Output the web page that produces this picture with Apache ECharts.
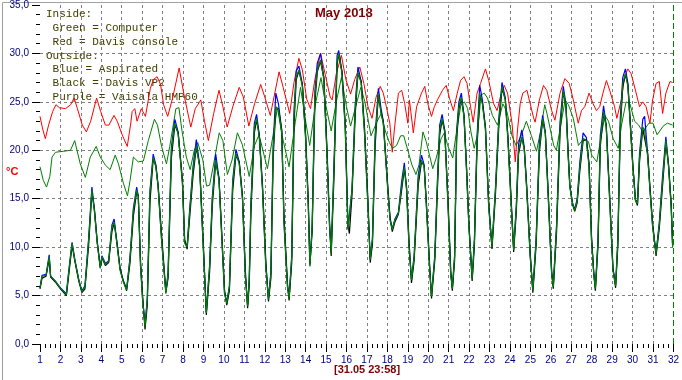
<!DOCTYPE html>
<html><head><meta charset="utf-8">
<script src="https://cdn.jsdelivr.net/npm/echarts@6/dist/echarts.min.js"></script>
<style>html,body{margin:0;padding:0;background:#fff}#c{width:682px;height:380px}</style>
</head><body><div id="c"></div>
<script>
// ---- data (day of month as fractional time, temperature in °C) ----
const yTicks = [0, 5, 10, 15, 20, 25, 30, 35];
const dayTicks = [1,2,3,4,5,6,7,8,9,10,11,12,13,14,15,16,17,18,19,20,21,22,23,24,25,26,27,28,29,30,31,32];

const redInside = [[1.0,23.5],[1.12,22.3],[1.26,21.2],[1.42,22.6],[1.62,24.0],[1.78,24.7],[1.95,24.4],[2.25,24.3],[2.5,24.7],[2.67,25.4],[2.83,24.3],[3.07,22.6],[3.27,21.9],[3.48,23.0],[3.77,25.4],[3.97,24.0],[4.2,22.6],[4.37,22.6],[4.62,23.6],[4.78,23.0],[5.02,21.6],[5.27,20.4],[5.43,22.6],[5.51,24.0],[5.64,24.3],[5.75,23.0],[5.96,24.3],[6.16,23.5],[6.4,26.4],[6.55,27.3],[6.73,27.6],[6.9,26.8],[7.05,24.7],[7.25,23.5],[7.49,25.4],[7.81,28.5],[8.05,25.7],[8.38,22.4],[8.6,24.3],[8.87,25.2],[9.05,23.0],[9.24,21.0],[9.5,23.8],[9.76,26.2],[9.95,24.5],[10.16,22.4],[10.45,24.6],[10.75,26.5],[10.95,25.5],[11.22,22.5],[11.5,24.8],[11.8,26.8],[12.0,25.5],[12.27,23.6],[12.5,26.0],[12.7,28.1],[12.9,26.5],[13.22,23.8],[13.43,27.0],[13.67,29.5],[13.84,28.3],[14.05,25.3],[14.24,24.3],[14.45,27.3],[14.73,30.0],[14.95,27.9],[15.2,25.5],[15.3,25.2],[15.5,27.9],[15.75,29.8],[15.97,27.3],[16.2,25.8],[16.4,27.3],[16.65,28.6],[16.85,26.9],[17.05,24.5],[17.25,23.3],[17.45,25.5],[17.65,26.6],[17.8,25.9],[17.95,24.5],[18.12,22.8],[18.24,19.8],[18.34,22.1],[18.54,25.9],[18.7,26.2],[18.85,24.8],[19.0,22.8],[19.08,25.2],[19.27,21.8],[19.43,24.5],[19.67,25.9],[19.83,26.6],[19.98,24.8],[20.16,23.5],[20.3,24.5],[20.45,25.2],[20.7,26.2],[20.88,26.7],[21.05,25.3],[21.23,24.1],[21.42,25.9],[21.58,27.2],[21.75,27.6],[21.9,26.9],[22.07,24.5],[22.2,22.9],[22.39,25.9],[22.56,26.9],[22.8,28.4],[22.96,27.2],[23.2,24.8],[23.37,24.1],[23.53,25.5],[23.72,26.7],[23.88,25.9],[24.1,22.8],[24.26,18.8],[24.37,22.1],[24.5,24.8],[24.63,25.9],[24.83,26.2],[24.99,24.8],[25.15,23.4],[25.23,22.9],[25.44,25.2],[25.64,26.7],[25.8,26.2],[26.04,24.1],[26.2,23.1],[26.45,25.9],[26.69,27.4],[26.9,26.9],[27.1,25.2],[27.34,22.8],[27.5,24.1],[27.66,24.5],[27.87,25.9],[28.07,24.8],[28.23,24.1],[28.39,24.5],[28.55,25.9],[28.72,27.2],[28.88,26.2],[29.12,24.5],[29.23,23.3],[29.45,25.2],[29.61,27.6],[29.77,28.4],[29.93,27.9],[30.14,26.2],[30.34,24.5],[30.5,25.0],[30.66,24.5],[30.85,22.8],[30.98,25.2],[31.15,26.9],[31.31,27.1],[31.47,23.8],[31.63,25.9],[31.83,27.1],[31.96,27.0]];

const greenInside = [[1.0,18.3],[1.16,16.9],[1.32,16.2],[1.48,17.3],[1.59,19.3],[1.76,19.8],[2.16,19.9],[2.49,20.0],[2.7,21.0],[2.81,20.0],[2.97,18.6],[3.22,17.2],[3.46,19.3],[3.75,20.4],[3.95,19.3],[4.19,18.5],[4.43,18.0],[4.68,19.5],[4.84,18.6],[5.08,16.6],[5.28,15.3],[5.41,16.9],[5.57,19.3],[5.81,18.8],[6.06,18.9],[6.3,21.0],[6.6,23.2],[6.75,22.6],[6.95,20.4],[7.19,18.6],[7.35,20.4],[7.65,24.3],[7.8,24.4],[7.95,22.0],[8.16,19.3],[8.35,18.0],[8.55,20.0],[8.72,20.8],[8.97,19.0],[9.15,16.3],[9.3,16.4],[9.5,18.6],[9.77,21.8],[9.95,21.0],[10.17,17.5],[10.4,19.0],[10.66,21.8],[10.9,20.6],[11.24,17.3],[11.5,20.5],[11.72,21.6],[12.13,18.1],[12.4,21.5],[12.62,24.4],[12.85,21.5],[13.19,18.3],[13.5,23.0],[13.75,26.5],[14.0,23.0],[14.2,20.5],[14.5,25.0],[14.75,27.5],[15.0,24.5],[15.25,22.0],[15.5,25.0],[15.75,27.5],[16.0,24.5],[16.2,22.5],[16.45,24.5],[16.7,26.5],[16.9,25.0],[17.2,21.5],[17.5,23.0],[17.7,23.8],[17.9,22.0],[18.1,20.8],[18.25,20.2],[18.45,20.5],[18.65,21.5],[18.8,21.5],[19.0,20.0],[19.2,18.5],[19.4,17.5],[19.55,18.5],[19.74,21.9],[19.9,20.9],[20.06,19.5],[20.22,18.1],[20.39,19.2],[20.63,21.2],[20.79,21.8],[20.95,20.5],[21.2,19.2],[21.36,21.6],[21.6,24.7],[21.77,25.0],[21.93,24.3],[22.09,21.9],[22.25,20.2],[22.41,21.6],[22.58,25.7],[22.74,25.9],[22.9,25.4],[23.14,23.6],[23.39,22.6],[23.65,24.8],[23.85,24.0],[24.1,21.5],[24.3,20.5],[24.55,21.5],[24.8,23.0],[25.05,21.5],[25.3,19.9],[25.5,22.0],[25.7,24.7],[25.81,23.8],[26.14,20.5],[26.27,20.0],[26.7,25.2],[26.86,24.7],[27.1,23.3],[27.35,20.5],[27.6,21.2],[27.84,20.9],[28.0,19.5],[28.25,18.8],[28.5,21.9],[28.65,23.6],[28.82,23.0],[29.05,21.2],[29.3,20.2],[29.46,22.6],[29.68,25.0],[29.87,24.8],[30.1,23.0],[30.3,22.6],[30.5,21.9],[30.8,22.8],[31.0,22.8],[31.2,21.6],[31.5,22.5],[31.7,22.8],[31.96,22.6]];

const outTime = [1.0,1.1,1.3,1.45,1.52,1.75,2.0,2.29,2.4,2.57,2.7,2.9,3.05,3.2,3.38,3.54,3.66,3.8,3.95,4.03,4.2,4.36,4.52,4.63,4.76,4.92,5.08,5.24,5.4,5.57,5.73,5.81,5.92,6.02,6.14,6.25,6.38,6.54,6.67,6.78,6.95,7.16,7.27,7.43,7.6,7.76,7.97,8.08,8.2,8.33,8.49,8.65,8.81,8.98,9.14,9.3,9.43,9.6,9.76,9.87,10.03,10.14,10.27,10.43,10.59,10.75,10.91,11.05,11.16,11.24,11.32,11.49,11.6,11.73,11.89,12.05,12.18,12.3,12.41,12.54,12.67,12.83,12.94,13.11,13.19,13.32,13.43,13.54,13.67,13.84,14.0,14.13,14.21,14.32,14.45,14.57,14.73,14.89,15.05,15.17,15.25,15.38,15.54,15.62,15.78,15.94,16.07,16.14,16.27,16.43,16.56,16.72,16.88,17.05,17.16,17.27,17.4,17.56,17.69,17.8,17.89,18.02,18.13,18.24,18.37,18.54,18.7,18.83,18.94,19.06,19.18,19.31,19.51,19.67,19.8,19.91,20.08,20.16,20.32,20.45,20.56,20.68,20.81,20.97,21.1,21.18,21.29,21.39,21.5,21.62,21.75,21.88,21.99,22.15,22.26,22.39,22.52,22.65,22.8,22.96,23.12,23.29,23.45,23.61,23.77,23.9,24.05,24.18,24.31,24.42,24.58,24.7,24.82,24.99,25.12,25.28,25.44,25.6,25.73,25.88,26.04,26.12,26.28,26.45,26.61,26.74,26.85,26.93,27.06,27.17,27.29,27.42,27.58,27.74,27.87,27.99,28.1,28.18,28.31,28.42,28.58,28.71,28.88,29.04,29.17,29.28,29.4,29.52,29.65,29.77,29.88,30.01,30.14,30.24,30.34,30.5,30.59,30.74,30.85,30.98,31.15,31.31,31.47,31.63,31.76,31.89,31.96];

const outGreen = [5.8,7.0,7.1,9.0,7.0,6.5,5.75,5.1,7.3,10.4,8.7,6.6,5.4,5.9,10.7,15.9,13.8,10.4,7.8,9.0,8.2,8.5,12.1,12.6,10.4,7.6,6.4,5.6,8.7,13.8,15.9,15.2,8.0,4.6,1.8,4.6,15.5,19.3,18.3,16.2,10.7,5.2,7.3,20.0,22.8,21.7,16.6,10.4,10.0,13.8,18.0,20.5,18.3,10.4,3.2,8.0,14.9,19.0,16.9,12.1,5.2,4.2,5.9,16.6,19.7,18.6,14.9,7.0,3.9,6.6,14.2,22.4,23.3,21.4,15.9,8.0,4.6,7.3,20.0,24.5,24.2,21.8,12.5,5.9,4.7,9.0,23.5,27.6,28.3,26.6,21.1,14.2,8.0,12.1,25.5,28.3,29.3,27.3,19.3,12.1,9.4,17.6,29.3,30.0,27.9,22.1,11.8,11.6,15.9,24.5,28.1,26.9,21.8,14.2,8.7,10.8,21.1,25.9,23.8,22.8,20.0,15.9,12.8,11.8,12.8,13.5,16.3,18.3,15.9,10.1,6.6,9.0,17.0,19.0,18.3,14.2,7.3,4.9,9.0,16.6,22.1,23.3,21.8,14.2,7.2,5.7,9.0,21.7,24.5,25.5,23.4,17.6,12.1,6.7,10.7,21.0,25.9,24.8,22.1,14.1,10.0,15.9,22.8,26.6,25.2,21.0,14.8,9.7,14.1,20.0,21.4,20.0,15.9,9.0,5.5,10.7,20.3,23.3,21.7,14.8,7.2,5.9,12.1,22.4,26.2,24.5,19.3,16.2,14.5,13.8,14.8,18.3,21.2,21.0,18.3,10.7,7.2,5.7,10.7,21.0,24.0,22.4,14.8,7.6,6.0,10.7,22.8,26.9,27.9,26.6,22.8,18.3,14.8,14.5,19.3,22.4,22.1,19.3,15.9,12.1,9.3,12.4,16.9,21.0,18.3,14.1,10.0];

const outBlue = [5.8,7.1,7.2,9.2,7.0,6.5,5.8,5.2,7.4,10.5,8.8,6.6,5.5,6.0,10.9,16.2,14.0,10.5,7.9,9.1,8.3,8.6,12.3,12.9,10.5,7.7,6.5,5.7,8.8,14.0,16.2,15.3,8.1,4.7,1.9,4.7,15.8,19.6,18.5,16.3,10.8,5.3,7.4,20.3,23.2,21.9,16.7,10.5,10.1,14.0,18.3,21.1,18.5,10.5,3.3,8.1,15.1,19.6,17.1,12.2,5.3,4.3,6.0,16.9,20.1,18.8,15.0,7.1,4.0,6.7,14.4,22.8,23.7,21.6,16.0,8.1,4.7,7.4,20.5,25.9,24.8,22.0,12.6,6.0,4.8,9.1,24.0,28.2,28.7,26.8,21.3,14.3,8.1,12.3,26.0,29.0,30.0,27.5,19.5,12.2,9.5,17.9,29.8,30.3,28.1,22.3,11.9,11.7,16.0,24.8,28.6,27.1,22.0,14.3,8.8,10.9,21.5,26.4,24.3,23.0,20.1,16.0,12.9,11.9,12.9,13.6,16.8,18.7,16.0,10.2,6.7,9.1,17.4,19.5,18.5,14.3,7.4,5.0,9.1,16.9,22.6,23.7,22.0,14.3,7.3,5.8,9.1,22.0,25.0,25.9,23.6,17.7,12.2,6.8,10.8,21.5,26.7,25.2,22.3,14.2,10.1,16.1,23.2,27.0,25.4,21.2,14.9,9.8,14.3,20.6,22.1,20.3,16.0,9.1,5.6,10.8,20.8,23.6,21.9,14.9,7.3,6.0,12.3,22.9,26.6,24.7,19.5,16.3,14.6,13.9,15.0,18.8,21.8,21.3,18.5,10.8,7.3,5.8,10.8,21.5,24.6,22.6,14.9,7.7,6.1,10.8,23.4,27.5,28.4,26.9,23.0,18.5,14.9,14.6,19.7,23.2,23.5,19.6,16.0,12.2,9.4,12.6,17.4,21.4,18.5,14.2,10.1];

const outBlack = [5.7,6.8,7.0,8.8,6.9,6.4,5.7,5.0,7.0,10.2,8.6,6.5,5.3,5.7,10.2,15.7,13.9,10.6,7.9,8.9,8.1,8.4,11.6,12.5,10.6,7.8,6.5,5.5,8.3,13.2,15.7,15.3,8.6,5.0,1.5,4.0,14.6,19.1,18.4,16.4,11.3,5.4,6.8,19.2,22.6,21.8,17.0,10.8,9.8,13.2,17.4,20.3,18.5,11.0,3.0,7.4,14.2,18.8,17.1,12.6,5.6,4.0,5.5,15.8,19.5,18.8,15.3,7.6,3.7,6.1,13.4,21.8,23.1,21.6,16.4,8.6,4.4,6.8,19.2,24.3,24.3,22.1,13.2,6.3,4.5,8.4,22.6,27.3,28.2,26.8,21.6,14.8,8.3,11.6,24.8,28.1,29.2,27.5,19.9,12.6,9.1,16.8,28.9,29.9,28.1,22.7,12.4,11.4,15.4,23.8,27.9,27.1,22.4,14.8,8.4,10.3,20.4,25.7,24.0,22.9,20.3,16.3,13.1,11.6,12.6,13.4,15.9,18.1,16.2,10.6,6.3,8.6,16.4,18.8,18.4,14.6,7.7,4.7,8.6,16.0,21.6,23.1,22.0,14.8,7.6,5.5,8.6,21.1,24.3,25.3,23.6,18.1,12.5,6.5,10.2,20.4,25.7,24.9,22.4,14.6,9.8,15.4,22.3,26.4,25.3,21.4,15.3,9.5,13.6,19.6,21.3,20.2,16.3,9.4,5.3,10.2,19.8,23.1,21.8,15.3,7.5,5.7,11.5,21.9,26.0,24.7,19.7,16.4,14.4,13.7,14.6,17.9,21.0,21.1,18.6,11.2,7.4,5.5,10.2,20.4,23.8,22.6,15.3,7.9,5.8,10.2,22.2,26.6,27.8,26.8,23.2,18.6,14.9,14.3,18.8,22.2,22.2,19.6,16.3,12.5,9.1,12.0,16.4,20.8,18.5,14.5,10.3];

// ---- build ----
const zip = (t, v) => t.map((x, i) => [x, v[i]]);
const fmt = v => v.toFixed(1).replace('.', ',');
const chart = echarts.init(document.getElementById('c'), null, {renderer: 'canvas'});
const lineS = (name, data, color, w) => ({
  name, type: 'line', data, showSymbol: false, symbol: 'none', animation: false,
  lineStyle: {color, width: w || 1}, itemStyle: {color}, z: 2
});
const legendLines = ['Inside:', ' Green = Computer', ' Red = Davis console', 'Outside:', ' Blue = Aspirated', ' Black = Davis VP2', ' Purple = Vaisala HMP60'];

chart.setOption({
  backgroundColor: '#ffffff',
  animation: false,
  grid: {left: 40, right: 5, top: 4, bottom: 36, containLabel: false},
  xAxis: {
    type: 'value', min: dayTicks[0], max: dayTicks[dayTicks.length - 1], interval: 1,
    axisLine: {show: true, lineStyle: {color: 'rgba(0,0,0,0)'}},
    axisTick: {show: true, length: 8, lineStyle: {color: '#000000'}},
    minorTick: {show: true, splitNumber: 4, length: 4, lineStyle: {color: '#000000'}},
    axisLabel: {color: '#000080', fontSize: 10, margin: 11, fontFamily: 'Liberation Sans, Arial, sans-serif'},
    splitLine: {show: true, showMinLine: false, showMaxLine: false, lineStyle: {type: [3, 3], color: '#808080', width: 1}}
  },
  yAxis: {
    type: 'value', min: yTicks[0], max: yTicks[yTicks.length - 1], interval: 5,
    axisLine: {show: true, lineStyle: {color: 'rgba(0,0,0,0)'}},
    axisTick: {show: true, length: 8, lineStyle: {color: '#000000'}},
    minorTick: {show: true, splitNumber: 5, length: 4, lineStyle: {color: '#000000'}},
    axisLabel: {color: '#000080', fontSize: 10, margin: 11, formatter: fmt, fontFamily: 'Liberation Sans, Arial, sans-serif'},
    splitLine: {show: true, showMinLine: false, showMaxLine: false, lineStyle: {type: [3, 3], color: '#808080', width: 1}}
  },
  series: [
    lineS('Red = Davis console', redInside, '#ff0000'),
    lineS('Green = Computer', greenInside, '#008000'),
    lineS('Blue = Aspirated', zip(outTime, outBlue), '#0000ff', 1.2),
    lineS('Black = Davis VP2', zip(outTime, outBlack), '#000000', 1.2),
    Object.assign(lineS('Outside', zip(outTime, outGreen), '#008000', 1.2), {
      markLine: {silent: true, symbol: 'none', label: {show: false},
        lineStyle: {color: '#008000', type: [6, 3], width: 1},
        data: [{xAxis: dayTicks[dayTicks.length - 1]}]}
    })
  ],
  graphic: [
    {type: 'rect', left: 0, top: 0, shape: {x: 0.5, y: 0.5, width: 681, height: 379}, style: {fill: 'none', stroke: '#a0a0a0', lineWidth: 1}, silent: true},
    {type: 'text', left: 315, top: 7, style: {text: 'May 2018', fill: '#800000', font: 'bold 13px "Liberation Sans", Arial, sans-serif'}},
    {type: 'text', left: 334, top: 364, style: {text: '[31.05 23:58]', fill: '#800000', font: 'bold 11px "Liberation Sans", Arial, sans-serif'}},
    {type: 'text', left: 6, top: 166, style: {text: '°C', fill: '#ff0000', font: 'bold 11px "Liberation Sans", Arial, sans-serif'}},
    {type: 'text', left: 46, top: 7, style: {text: legendLines.join('\n'), fill: '#404000', font: '11px "Liberation Mono", "Courier New", monospace', lineHeight: 13.9}}
  ]
});
</script></body></html>
